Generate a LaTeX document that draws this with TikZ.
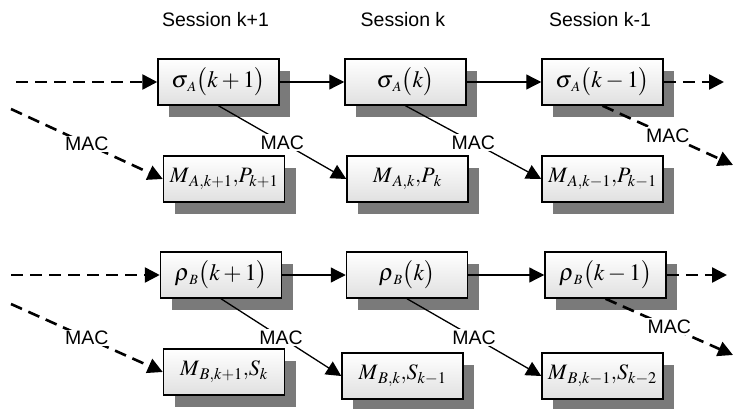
\documentclass[tikz,border=0pt]{standalone}
\usepackage{mathptmx}
\usepackage[no-math]{fontspec}
\setmainfont{Liberation Sans}
\usepackage{tikz}
\usetikzlibrary{positioning,arrows.meta,shadows}
\definecolor{ShadowGray}{RGB}{122,122,122}
\newcommand{\boxfont}{\fontsize{23.5}{28}\selectfont}
\newcommand{\macfont}{\fontsize{22}{26}\selectfont}
\newcommand{\labfont}{\fontsize{19.5}{23}\selectfont}
\tikzset{keybox/.style={draw, line width=1.5pt, top color=white, bottom color=black!12,
			minimum width=121pt, minimum height=46pt, inner sep=0pt, font=\boxfont,
			general shadow={fill=ShadowGray, shadow xshift=11pt, shadow yshift=-12pt}},
	tagbox/.style={keybox, font=\macfont},
	dashline/.style={line width=2.6pt, dash pattern=on 12pt off 7pt},
	macline/.style={line width=1.3pt},
	maclabel/.style={fill=white, inner sep=1.5pt, font=\labfont}}

\begin{document}
\begin{tikzpicture}[x=1pt,y=-1pt,>={Triangle[length=15pt,width=15pt]}]
	\useasboundingbox (0,0) rectangle (733,409);
	% session headings
	\node[font=\labfont] (sesp) at (215.5,20) {Session k+1};
	\node[font=\labfont] (sesk) at (403,20) {Session k};
	\node[font=\labfont] (sesm) at (600,20) {Session k-1};
	% A side
	\node[keybox] (sAp) at (218.5,82) {$\sigma_{\mkern2mu\scriptscriptstyle A}\bigl(k+1\bigr)$};
	\node[keybox] (sAk) at (405.5,82) {$\sigma_{\mkern2mu\scriptscriptstyle A}\bigl(k\bigr)$};
	\node[keybox] (sAm) at (602.5,82) {$\sigma_{\mkern2mu\scriptscriptstyle A}\bigl(k-1\bigr)$};
	\node[tagbox] (mAp) at (224,179) {$M_{\,A,k+1}{,}P_{k+1}$};
	\node[tagbox] (mAk) at (407.5,179) {$M_{\,A,k}{,}P_{\mkern2mu k}$};
	\node[tagbox] (mAm) at (602.5,179) {$M_{\,A,k-1}{,}P_{k-1}$};
	% B side
	\node[keybox] (rBp) at (221,275) {$\rho_{\mkern2mu\scriptscriptstyle B}\bigl(k+1\bigr)$};
	\node[keybox] (rBk) at (407,275) {$\rho_{\mkern2mu\scriptscriptstyle B}\bigl(k\bigr)$};
	\node[keybox] (rBm) at (605.5,275) {$\rho_{\mkern2mu\scriptscriptstyle B}\bigl(k-1\bigr)$};
	\node[tagbox] (mBp) at (224,372) {$M_{\,B,k+1}{,}S_{k}$};
	\node[tagbox] (mBk) at (402.5,376) {$M_{\,B,k}{,}S_{k-1}$};
	\node[tagbox] (mBm) at (602.5,376) {$M_{\,B,k-1}{,}S_{k-2}$};
	% loose ends
	\coordinate (inA) at (16,82);
	\coordinate (outA) at (724,82);
	\coordinate (macinA) at (11,109);
	\coordinate (macoutA) at (733,165);
	\coordinate (inB) at (11,275);
	\coordinate (outB) at (727,275);
	\coordinate (macinB) at (11,304);
	\coordinate (macoutB) at (733,355);
	% chains
	\draw[->,dashline] (inA) -- (sAp);
	\draw[->,macline] (sAp) -- (sAk);
	\draw[->,macline] (sAk) -- (sAm);
	\draw[->,dashline] (sAm) -- (outA);
	\draw[->,dashline] (inB) -- (rBp);
	\draw[->,macline] (rBp) -- (rBk);
	\draw[->,macline] (rBk) -- (rBm);
	\draw[->,dashline] (rBm) -- (outB);
	% MAC links
	\draw[->,dashline] (macinA) -- node[maclabel] {MAC} (mAp.west);
	\draw[->,macline] (sAp.south) -- node[maclabel] {MAC} (mAk.west);
	\draw[->,macline] (sAk.south) -- node[maclabel] {MAC} (mAm.west);
	\draw[->,dashline] (sAm.south) -- node[maclabel] {MAC} (macoutA);
	\draw[->,dashline] (macinB) -- node[maclabel] {MAC} (mBp.west);
	\draw[->,macline] (rBp.south) -- node[maclabel] {MAC} (mBk.west);
	\draw[->,macline] (rBk.south) -- node[maclabel] {MAC} (mBm.west);
	\draw[->,dashline] (rBm.south) -- node[maclabel] {MAC} (macoutB);
\end{tikzpicture}
\end{document}
